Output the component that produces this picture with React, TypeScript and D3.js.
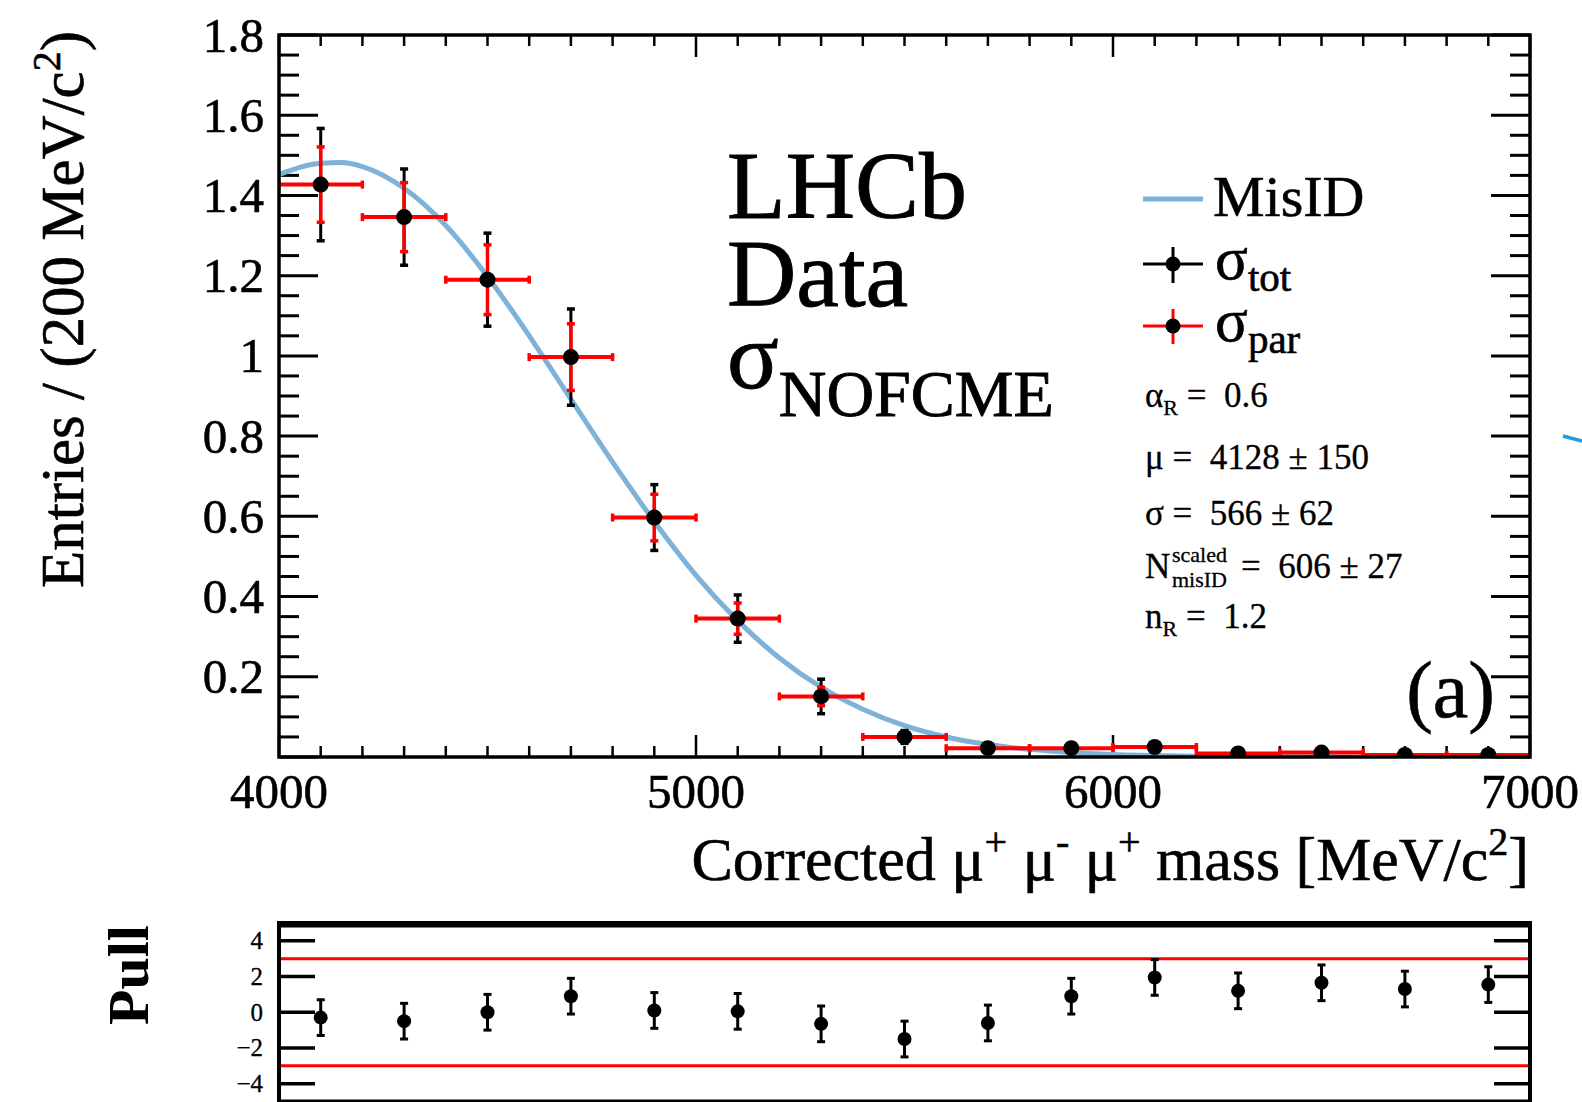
import React from "react";
import * as d3 from "d3";

// ---- data ----
const binCenters = [4100, 4300, 4500, 4700, 4900, 5100, 5300, 5500, 5700, 5900, 6100, 6300, 6500, 6700, 6900];
const binHalfWidth = 100;
const entries = [1.427, 1.346, 1.19, 0.997, 0.597, 0.345, 0.151, 0.05, 0.022, 0.022, 0.025, 0.009, 0.011, 0.005, 0.005];
const errTot = [0.14, 0.12, 0.116, 0.12, 0.082, 0.059, 0.043, 0.016, 0.011, 0.011, 0.012, 0.008, 0.008, 0.005, 0.005];
const errPar = [0.094, 0.086, 0.087, 0.083, 0.058, 0.039, 0.023, 0.01, 0.007, 0.007, 0.008, 0.005, 0.005, 0.003, 0.003];

const curveX = [4000, 4050, 4100, 4150, 4200, 4300, 4400, 4500, 4600, 4700, 4800, 4900, 5000, 5100, 5200, 5300, 5400, 5500, 5600, 5700, 5800, 5900, 6000, 6200, 6400, 6700, 7000];
const curveY = [1.452, 1.47, 1.48, 1.482, 1.472, 1.418, 1.325, 1.198, 1.05, 0.892, 0.735, 0.587, 0.453, 0.34, 0.247, 0.174, 0.119, 0.078, 0.05, 0.031, 0.019, 0.011, 0.006, 0.002, 0.0005, 0.0, 0.0];

const pulls = [-0.3, -0.5, 0.0, 0.9, 0.1, 0.05, -0.65, -1.5, -0.6, 0.9, 1.95, 1.2, 1.65, 1.3, 1.55];
const pullErr = [1, 1, 1, 1, 1, 1, 1, 1, 1, 1, 1, 1, 1, 1, 1];

const xTickLabels = ["4000", "5000", "6000", "7000"];
const yTickValues = [0.2, 0.4, 0.6, 0.8, 1.0, 1.2, 1.4, 1.6, 1.8];
const yTickLabels = ["0.2", "0.4", "0.6", "0.8", "1", "1.2", "1.4", "1.6", "1.8"];
const pullTickValues = [4, 2, 0, -2, -4];
const pullTickLabels = ["4", "2", "0", "\u22122", "\u22124"];
const pullBand = [3, -3];

const W = 1582;
const H = 1102;
const FONT = "'Liberation Serif', 'Times New Roman', serif";
const BLUE = "#7eb2d8";
const RED = "#ff0000";

export default function App() {
  const x = d3.scaleLinear().domain([4000, 7000]).range([279, 1530]);
  const y = d3.scaleLinear().domain([0, 1.8]).range([757, 35]);
  const yp = d3.scaleLinear().domain([-5, 5]).range([1101.5, 923]);

  const [x0, x1] = x.range();
  const [yb, yt] = y.range();
  const [pb, pt] = yp.range();

  const line = d3
    .line<number>()
    .x((_, i) => x(curveX[i]))
    .y((_, i) => y(curveY[i]))
    .curve(d3.curveMonotoneX);
  const curvePath = line(curveX) || "";

  const xMinor = d3.range(4000, 7001, 100);
  const yMinor = d3.range(0, 1.8001, 0.05);
  const xMajorVals = [4000, 5000, 6000, 7000];

  const cap = 4;
  const heavy = { stroke: "#000", strokeWidth: 0.9 };
  const medium = { stroke: "#000", strokeWidth: 0.6 };

  return (
    <svg
      width={W}
      height={H}
      style={{ position: "absolute", left: 0, top: 0, background: "#fff" }}
      fontFamily={FONT}
    >
      <rect x={0} y={0} width={W} height={H} fill="#fff" />

      {/* ---------- main panel ---------- */}
      <defs>
        <clipPath id="mainClip">
          <rect x={x0} y={yt} width={x1 - x0} height={yb - yt} />
        </clipPath>
      </defs>

      {/* ticks */}
      <g stroke="#000" strokeWidth={2.5}>
        {xMinor.map((v) => {
          const major = xMajorVals.includes(Math.round(v));
          const len = major ? 22 : 11;
          return (
            <g key={"xt" + v}>
              <line x1={x(v)} x2={x(v)} y1={yb} y2={yb - len} />
              <line x1={x(v)} x2={x(v)} y1={yt} y2={yt + len} />
            </g>
          );
        })}
        {yMinor.map((v, i) => {
          const major = i % 4 === 0;
          const len = major ? 39 : 20;
          return (
            <g key={"yt" + i}>
              <line x1={x0} x2={x0 + len} y1={y(v)} y2={y(v)} strokeWidth={3} />
              <line x1={x1} x2={x1 - len} y1={y(v)} y2={y(v)} strokeWidth={3} />
            </g>
          );
        })}
      </g>

      {/* MisID curve */}
      <path d={curvePath} fill="none" stroke={BLUE} strokeWidth={5} clipPath="url(#mainClip)" />

      {/* data points */}
      <g clipPath="url(#mainClip)">
        {binCenters.map((c, i) => {
          const cx = x(c);
          const cy = y(entries[i]);
          const tTop = y(entries[i] + errTot[i]);
          const tBot = y(entries[i] - errTot[i]);
          const pTop = y(entries[i] + errPar[i]);
          const pBot = y(entries[i] - errPar[i]);
          const xl = x(c - binHalfWidth);
          const xr = x(c + binHalfWidth);
          return (
            <g key={"pt" + i}>
              <line x1={cx} x2={cx} y1={tTop} y2={tBot} stroke="#000" strokeWidth={3} />
              <line x1={cx - cap} x2={cx + cap} y1={tTop} y2={tTop} stroke="#000" strokeWidth={3.5} />
              <line x1={cx - cap} x2={cx + cap} y1={tBot} y2={tBot} stroke="#000" strokeWidth={3.5} />
              <line x1={cx} x2={cx} y1={pTop} y2={pBot} stroke={RED} strokeWidth={3.5} />
              <line x1={cx - cap} x2={cx + cap} y1={pTop} y2={pTop} stroke={RED} strokeWidth={3.5} />
              <line x1={cx - cap} x2={cx + cap} y1={pBot} y2={pBot} stroke={RED} strokeWidth={3.5} />
              <line x1={xl} x2={xr} y1={cy} y2={cy} stroke={RED} strokeWidth={4} />
              <line x1={xl} x2={xl} y1={cy - cap} y2={cy + cap} stroke={RED} strokeWidth={3.5} />
              <line x1={xr} x2={xr} y1={cy - cap} y2={cy + cap} stroke={RED} strokeWidth={3.5} />
              <circle cx={cx} cy={cy} r={8} fill="#000" />
            </g>
          );
        })}
      </g>

      {/* frame */}
      <rect x={x0} y={yt} width={x1 - x0} height={yb - yt} fill="none" stroke="#000" strokeWidth={3.5} />

      {/* tick labels */}
      <g fontSize={49} fill="#000" {...medium}>
        {yTickValues.map((v, i) => (
          <text key={"yl" + i} x={264} y={y(v)} textAnchor="end" dominantBaseline="central">
            {yTickLabels[i]}
          </text>
        ))}
        {xMajorVals.map((v, i) => (
          <text key={"xl" + i} x={x(v)} y={808} textAnchor="middle">
            {xTickLabels[i]}
          </text>
        ))}
      </g>

      {/* axis titles */}
      <text
        transform={`translate(83, 31) rotate(-90)`}
        textAnchor="end"
        fontSize={61}
        fill="#000"
        {...medium}
      >
        Entries / (200 MeV/c<tspan dy={-23} fontSize={40}>2</tspan>
        <tspan dy={23}>)</tspan>
      </text>
      <text x={1529} y={880} textAnchor="end" fontSize={62} fill="#000" {...medium}>
        Corrected μ<tspan dy={-25} fontSize={40}>+</tspan>
        <tspan dy={25}>{"\u00a0"}μ</tspan>
        <tspan dy={-25} fontSize={40}>-</tspan>
        <tspan dy={25}>{"\u00a0"}μ</tspan>
        <tspan dy={-25} fontSize={40}>+</tspan>
        <tspan dy={25}>{"\u00a0"}mass [MeV/c</tspan>
        <tspan dy={-25} fontSize={40}>2</tspan>
        <tspan dy={25}>]</tspan>
      </text>

      {/* LHCb labels */}
      <g fill="#000" fontSize={96} {...heavy}>
        <text x={727} y={218}>LHCb</text>
        <text x={727} y={306}>Data</text>
        <text x={727} y={388}>
          σ<tspan fontSize={66} dy={28}>NOFCME</tspan>
        </text>
      </g>

      {/* legend */}
      <g>
        <line x1={1143} x2={1203} y1={199} y2={199} stroke={BLUE} strokeWidth={5} />
        <text x={1213} y={216} fontSize={58} fill="#000" {...medium}>MisID</text>

        <line x1={1143} x2={1203} y1={264} y2={264} stroke="#000" strokeWidth={3} />
        <line x1={1173} x2={1173} y1={247} y2={283} stroke="#000" strokeWidth={3} />
        <circle cx={1173} cy={264} r={7.5} fill="#000" />
        <text x={1215} y={279} fontSize={61} fill="#000" {...medium}>
          σ<tspan fontSize={41} dy={12}>tot</tspan>
        </text>

        <line x1={1143} x2={1203} y1={326} y2={326} stroke={RED} strokeWidth={3} />
        <line x1={1173} x2={1173} y1={309} y2={344} stroke={RED} strokeWidth={3} />
        <circle cx={1173} cy={326} r={7.5} fill="#000" />
        <text x={1215} y={341} fontSize={61} fill="#000" {...medium}>
          σ<tspan fontSize={41} dy={12}>par</tspan>
        </text>
      </g>

      {/* fit parameters */}
      <g fill="#000" fontSize={35} stroke="#000" strokeWidth={0.3}>
        <text x={1145} y={407}>
          α<tspan fontSize={22} dy={8}>R</tspan>
          <tspan dy={-8}>{"\u00a0=\u00a0\u00a00.6"}</tspan>
        </text>
        <text x={1145} y={469}>{"μ\u00a0=\u00a0\u00a04128\u00a0±\u00a0150"}</text>
        <text x={1145} y={525}>{"σ\u00a0=\u00a0\u00a0566\u00a0±\u00a062"}</text>
        <text x={1145} y={578}>N</text>
        <text x={1172} y={562} fontSize={22}>scaled</text>
        <text x={1172} y={587} fontSize={22}>misID</text>
        <text x={1241} y={578}>{"=\u00a0\u00a0606\u00a0±\u00a027"}</text>
        <text x={1145} y={628}>
          n<tspan fontSize={22} dy={8}>R</tspan>
          <tspan dy={-8}>{"\u00a0=\u00a0\u00a01.2"}</tspan>
        </text>
      </g>

      <text x={1495} y={717} textAnchor="end" fontSize={80} fill="#000" {...medium}>(a)</text>

      {/* stray segment at right edge */}
      <line x1={1563} y1={436} x2={1582} y2={441} stroke="#1e9ae6" strokeWidth={3.5} />

      {/* ---------- pull panel ---------- */}
      <g stroke={RED} strokeWidth={3}>
        {pullBand.map((v) => (
          <line key={"pb" + v} x1={x0} x2={x1} y1={yp(v)} y2={yp(v)} />
        ))}
      </g>
      <g stroke="#000" strokeWidth={3.5}>
        {pullTickValues.map((v) => (
          <g key={"ptk" + v}>
            <line x1={x0} x2={x0 + 36} y1={yp(v)} y2={yp(v)} />
            <line x1={x1} x2={x1 - 36} y1={yp(v)} y2={yp(v)} />
          </g>
        ))}
      </g>
      <g>
        {binCenters.map((c, i) => {
          const cx = x(c);
          const top = yp(pulls[i] + pullErr[i]);
          const bot = yp(pulls[i] - pullErr[i]);
          return (
            <g key={"pp" + i}>
              <line x1={cx} x2={cx} y1={top} y2={bot} stroke="#000" strokeWidth={3} />
              <line x1={cx - 4} x2={cx + 4} y1={top} y2={top} stroke="#000" strokeWidth={3} />
              <line x1={cx - 4} x2={cx + 4} y1={bot} y2={bot} stroke="#000" strokeWidth={3} />
              <circle cx={cx} cy={yp(pulls[i])} r={7} fill="#000" />
            </g>
          );
        })}
      </g>
      <rect x={x0} y={pt} width={x1 - x0} height={pb - pt} fill="none" stroke="#000" strokeWidth={4} />
      <line x1={x0} x2={x1} y1={pt + 2} y2={pt + 2} stroke="#000" strokeWidth={5} />
      <g fontSize={25} fill="#000" stroke="#000" strokeWidth={0.3}>
        {pullTickValues.map((v, i) => (
          <text key={"pl" + i} x={263} y={yp(v)} textAnchor="end" dominantBaseline="central">
            {pullTickLabels[i]}
          </text>
        ))}
      </g>
      <text
        transform={`translate(148, 975) rotate(-90)`}
        textAnchor="middle"
        fontSize={58}
        fontWeight="bold"
        fill="#000"
      >
        Pull
      </text>
    </svg>
  );
}
